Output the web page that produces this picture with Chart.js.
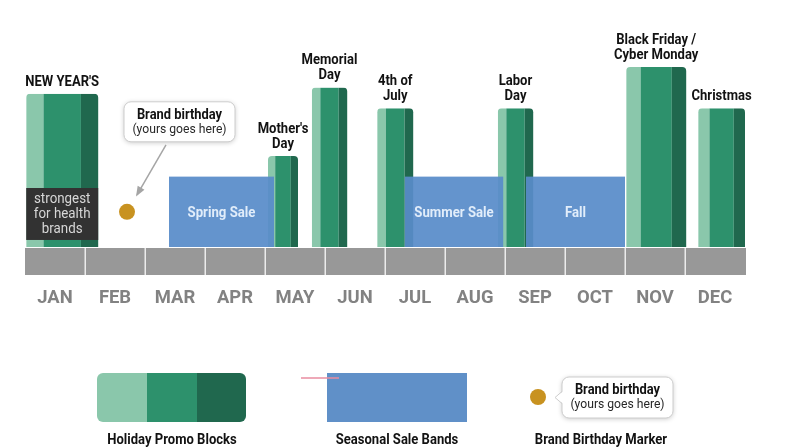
<!DOCTYPE html>
<html>
<head>
<meta charset="utf-8">
<script src="https://cdn.jsdelivr.net/npm/chart.js@4.4.1/dist/chart.umd.min.js"></script>
<style>
  html, body { margin: 0; padding: 0; background: #fff; }
  #wrap { width: 796px; height: 448px; }
</style>
</head>
<body>
<div id="wrap"><canvas id="promoCalendarChart"></canvas></div>
<script>
//data
const months = ['JAN', 'FEB', 'MAR', 'APR', 'MAY', 'JUN', 'JUL', 'AUG', 'SEP', 'OCT', 'NOV', 'DEC'];

const holidayNames = [["NEW YEAR'S"], ["Mother's", "Day"], ["Memorial", "Day"], ["4th of", "July"], ["Labor", "Day"], ["Black Friday /", "Cyber Monday"], ["Christmas"]];
const holidayStart = [0.02, 4.05, 4.78, 5.87, 7.88, 10.02, 11.22];
const holidayEnd = [1.22, 4.55, 5.37, 6.47, 8.47, 11.02, 12.0];
const holidayLift = [74, 44, 77, 67, 67, 87, 67];

const saleNames = ['Spring Sale', 'Summer Sale', 'Fall'];
const saleStart = [2.4, 6.33, 8.35];
const saleEnd = [4.15, 7.97, 10.0];
const saleLift = [34, 34, 34];

const janNote = ['strongest', 'for health', 'brands'];
const janNoteTop = 28.5;
const janNoteBottom = 3.4;

const birthdayMonth = 1.7;
const birthdayLift = 17;

//colors
var greenLight = 'rgb(138, 199, 171)';
var greenMid = 'rgb(45, 145, 108)';
var greenDark = 'rgb(32, 104, 78)';
var blue = 'rgba(88, 140, 201, 0.93)';
var gold = 'rgb(200, 146, 32)';
var grey = 'rgb(152, 152, 152)';
var monthGrey = 'rgb(130, 130, 130)';
var ink = 'rgb(18, 18, 18)';
var labelFont = 'bold 15px Roboto';

function drawText(ctx, str, x, y, font, color, squeeze) {
  ctx.save();
  ctx.font = font;
  ctx.fillStyle = color;
  ctx.textAlign = 'center';
  ctx.textBaseline = 'middle';
  ctx.translate(x, y);
  ctx.scale(squeeze || 1, 1);
  ctx.fillText(str, 0, 0);
  ctx.restore();
}

function stripedBlock(ctx, x0, x1, top, bottom, radius) {
  const w = x1 - x0;
  ctx.save();
  ctx.beginPath();
  ctx.roundRect(x0, top, w, bottom - top, [radius, radius, 0, 0]);
  ctx.clip();
  ctx.fillStyle = greenLight;
  ctx.fillRect(x0, top, w * 0.24, bottom - top);
  ctx.fillStyle = greenMid;
  ctx.fillRect(x0 + w * 0.24, top, w * 0.52, bottom - top);
  ctx.fillStyle = greenDark;
  ctx.fillRect(x0 + w * 0.76, top, w * 0.24 + 1, bottom - top);
  ctx.restore();
}

function callout(ctx, x, y, w, h, pointer) {
  ctx.save();
  ctx.shadowColor = 'rgba(0,0,0,0.22)';
  ctx.shadowBlur = 5;
  ctx.shadowOffsetY = 1;
  ctx.fillStyle = '#fff';
  ctx.strokeStyle = 'rgb(205,205,205)';
  ctx.lineWidth = 1;
  ctx.beginPath();
  ctx.roundRect(x, y, w, h, 7);
  ctx.fill();
  ctx.shadowColor = 'transparent';
  ctx.stroke();
  if (pointer) {
    ctx.beginPath();
    ctx.moveTo(x + 1, y + h / 2 - 6);
    ctx.lineTo(x - 7, y + h / 2);
    ctx.lineTo(x + 1, y + h / 2 + 6);
    ctx.closePath();
    ctx.fill();
    ctx.beginPath();
    ctx.moveTo(x, y + h / 2 - 6);
    ctx.lineTo(x - 7, y + h / 2);
    ctx.lineTo(x, y + h / 2 + 6);
    ctx.stroke();
  }
  ctx.restore();
  drawText(ctx, 'Brand birthday', x + w / 2, y + 13, labelFont, ink, 0.86);
  drawText(ctx, '(yours goes here)', x + w / 2, y + 28, '13.5px Roboto', 'rgb(40,40,40)', 0.9);
}

const calendarPlugin = {
  id: 'calendarPlugin',
  beforeDatasetsDraw(chart) {
    const ctx = chart.ctx;
    const xs = chart.scales.x;
    const ys = chart.scales.y;
    const base = ys.getPixelForValue(0);

    //holiday blocks
    holidayNames.forEach(function (name, i) {
      const x0 = xs.getPixelForValue(holidayStart[i]);
      const x1 = xs.getPixelForValue(holidayEnd[i]);
      const top = ys.getPixelForValue(holidayLift[i]);
      stripedBlock(ctx, x0, x1, top, base, 4);
      const cx = (x0 + x1) / 2;
      name.forEach(function (line, j) {
        const y = top - 15 * (name.length - j) + 3;
        drawText(ctx, line, cx, y, labelFont, ink, 0.87);
      });
    });

    //note inside jan
    const nx0 = xs.getPixelForValue(holidayStart[0]);
    const nx1 = xs.getPixelForValue(holidayEnd[0]);
    const ny0 = ys.getPixelForValue(janNoteTop);
    const ny1 = ys.getPixelForValue(janNoteBottom);
    ctx.fillStyle = 'rgb(50, 50, 50)';
    ctx.fillRect(nx0, ny0, nx1 - nx0, ny1 - ny0);
    janNote.forEach(function (line, j) {
      drawText(ctx, line, (nx0 + nx1) / 2, ny0 + 11 + j * 15, '14.5px Roboto', 'rgb(215,215,215)', 0.92);
    });

    //sale bands
    saleNames.forEach(function (name, i) {
      const x0 = xs.getPixelForValue(saleStart[i]);
      const x1 = xs.getPixelForValue(saleEnd[i]);
      const top = ys.getPixelForValue(saleLift[i]);
      ctx.fillStyle = blue;
      ctx.fillRect(x0, top, x1 - x0, base - top);
      drawText(ctx, name, (x0 + x1) / 2, (top + base) / 2 + 1, labelFont, 'rgb(225,237,250)', 0.88);
    });

    //month strip
    const left = xs.getPixelForValue(0);
    const right = xs.getPixelForValue(12);
    ctx.fillStyle = grey;
    ctx.fillRect(left, base + 1, right - left + 1, 27);
    months.forEach(function (m, i) {
      if (i > 0) {
        ctx.fillStyle = 'rgb(235,235,235)';
        ctx.fillRect(xs.getPixelForValue(i) - 0.5, base + 1, 1.5, 27);
      }
      drawText(ctx, m, xs.getPixelForValue(i + 0.5), base + 51, 'bold 19px Roboto', monthGrey, 0.97);
    });

    //birthday callout + arrow
    const bx = xs.getPixelForValue(birthdayMonth);
    const by = ys.getPixelForValue(birthdayLift);
    callout(ctx, bx - 3, by - 110, 111, 40, false);
    ctx.save();
    ctx.strokeStyle = 'rgb(165,165,165)';
    ctx.fillStyle = 'rgb(165,165,165)';
    ctx.lineWidth = 1.5;
    const ax0 = bx + 39, ay0 = by - 67, ax1 = bx + 10, ay1 = by - 17;
    ctx.beginPath();
    ctx.moveTo(ax0, ay0);
    ctx.lineTo(ax1, ay1);
    ctx.stroke();
    const ang = Math.atan2(ay1 - ay0, ax1 - ax0);
    ctx.beginPath();
    ctx.moveTo(ax1 + 2 * Math.cos(ang), ay1 + 2 * Math.sin(ang));
    ctx.lineTo(ax1 - 9 * Math.cos(ang - 0.45), ay1 - 9 * Math.sin(ang - 0.45));
    ctx.lineTo(ax1 - 9 * Math.cos(ang + 0.45), ay1 - 9 * Math.sin(ang + 0.45));
    ctx.closePath();
    ctx.fill();
    ctx.restore();

    //legend
    stripedLegend(ctx);
  }
};

function stripedLegend(ctx) {
  ctx.save();
  ctx.beginPath();
  ctx.roundRect(97, 373, 149, 49, 6);
  ctx.clip();
  ctx.fillStyle = greenLight;
  ctx.fillRect(97, 373, 50, 49);
  ctx.fillStyle = greenMid;
  ctx.fillRect(147, 373, 50, 49);
  ctx.fillStyle = greenDark;
  ctx.fillRect(197, 373, 50, 49);
  ctx.restore();
  drawText(ctx, 'Holiday Promo Blocks', 172, 440, labelFont, ink, 0.87);

  ctx.fillStyle = 'rgb(96, 144, 200)';
  ctx.fillRect(327, 373, 140, 49);
  ctx.strokeStyle = 'rgb(232, 140, 160)';
  ctx.lineWidth = 1.5;
  ctx.beginPath();
  ctx.moveTo(301, 378);
  ctx.lineTo(339, 378);
  ctx.stroke();
  drawText(ctx, 'Seasonal Sale Bands', 397, 440, labelFont, ink, 0.87);

  ctx.fillStyle = gold;
  ctx.beginPath();
  ctx.arc(538, 397, 8, 0, Math.PI * 2);
  ctx.fill();
  callout(ctx, 562, 377, 111, 41, true);
  drawText(ctx, 'Brand Birthday Marker', 601, 440, labelFont, ink, 0.87);
}

new Chart(
  document.getElementById('promoCalendarChart'), {
    type: 'scatter',
    data: {
      datasets: [{
        label: 'Brand birthday',
        data: [{ x: birthdayMonth, y: birthdayLift }],
        pointRadius: 8,
        pointHoverRadius: 8,
        backgroundColor: gold,
        borderWidth: 0
      }]
    },
    options: {
      responsive: true,
      maintainAspectRatio: false,
      animation: false,
      layout: { padding: { left: 25, right: 51, top: 40, bottom: 201 } },
      scales: {
        x: { type: 'linear', min: 0, max: 12, display: false },
        y: { min: 0, max: 100, display: false }
      },
      plugins: { legend: { display: false }, tooltip: { enabled: false } }
    },
    plugins: [calendarPlugin]
  }
);
</script>
</body>
</html>
